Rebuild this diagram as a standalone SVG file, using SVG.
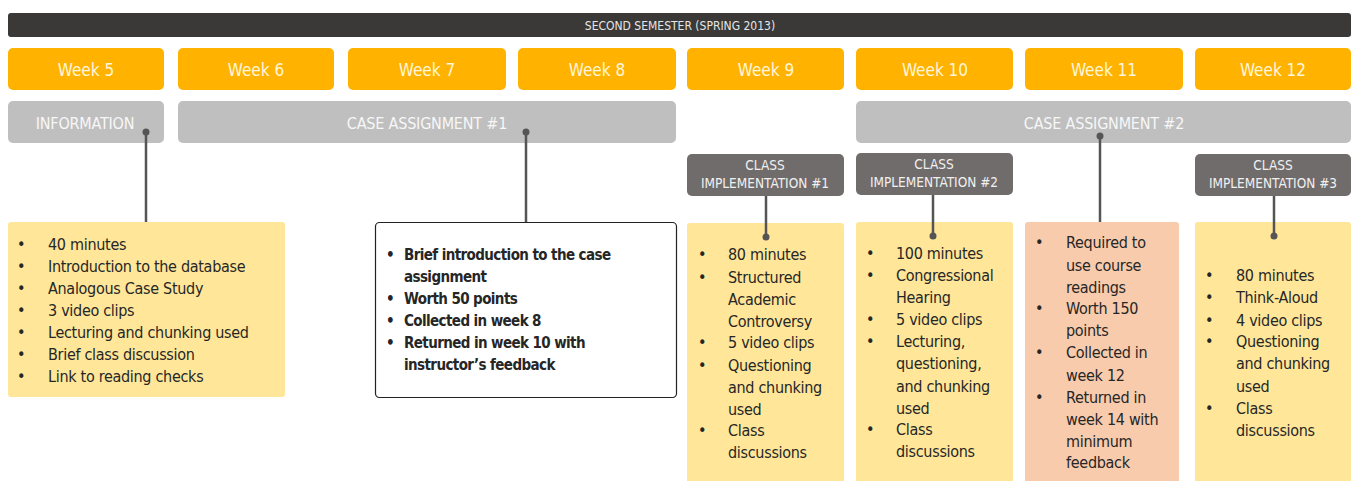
<svg xmlns="http://www.w3.org/2000/svg" width="1353" height="481" viewBox="0 0 1353 481">
<style>
text{font-family:"Liberation Sans Narrow","DejaVu Sans Condensed",sans-serif;}
.bar{fill:#3a3937;}
.bartxt{fill:#e6e6e6;font-size:12px;text-anchor:middle;}
.wk{fill:#ffb300;}
.wktxt{fill:#fff6dc;font-size:17px;text-anchor:middle;}
.gr{fill:#bfbfbf;}
.grtxt{fill:#f7f7f7;font-size:16px;text-anchor:middle;letter-spacing:-0.2px;}
.ci{fill:#706c6b;}
.citxt{fill:#f0f0f0;font-size:13.5px;text-anchor:middle;}
.yel{fill:#ffe699;}
.pink{fill:#f8cbad;}
.wht{fill:#fff;stroke:#222;stroke-width:1.2;}
.body{fill:#262626;font-size:16px;letter-spacing:-0.3px;}
.bold{font-weight:bold;font-size:15px;letter-spacing:-0.6px;}
.ln{stroke:#555;stroke-width:2.5;fill:none;}
.dot{fill:#555;}
</style>
<g id="header">
<rect class="bar" x="8" y="13" width="1343" height="24" rx="3"/>
<text class="bartxt" x="680" y="29.5">SECOND SEMESTER (SPRING 2013)</text>
</g>
<g id="weeks">
<rect class="wk" x="8" y="48" width="156" height="42" rx="5"/><text class="wktxt" x="86" y="76">Week 5</text>
<rect class="wk" x="178" y="48" width="156" height="42" rx="5"/><text class="wktxt" x="256" y="76">Week 6</text>
<rect class="wk" x="348" y="48" width="158" height="42" rx="5"/><text class="wktxt" x="427" y="76">Week 7</text>
<rect class="wk" x="518" y="48" width="158" height="42" rx="5"/><text class="wktxt" x="597" y="76">Week 8</text>
<rect class="wk" x="687" y="48" width="157" height="42" rx="5"/><text class="wktxt" x="766" y="76">Week 9</text>
<rect class="wk" x="856" y="48" width="157" height="42" rx="5"/><text class="wktxt" x="935" y="76">Week 10</text>
<rect class="wk" x="1025" y="48" width="158" height="42" rx="5"/><text class="wktxt" x="1104" y="76">Week 11</text>
<rect class="wk" x="1195" y="48" width="156" height="42" rx="5"/><text class="wktxt" x="1273" y="76">Week 12</text>
</g>
<g id="information">
<rect class="gr" x="8" y="101" width="156" height="42" rx="5"/>
<text class="grtxt" x="85" y="129">INFORMATION</text>
</g>
<g id="case1">
<rect class="gr" x="178" y="101" width="498" height="42" rx="5"/>
<text class="grtxt" x="427" y="129">CASE ASSIGNMENT #1</text>
</g>
<g id="case2">
<rect class="gr" x="856" y="101" width="495" height="42" rx="5"/>
<text class="grtxt" x="1104" y="129">CASE ASSIGNMENT #2</text>
</g>
<g id="ci1">
<rect class="ci" x="687" y="154" width="157" height="42" rx="5"/>
<text class="citxt" x="765" y="170">CLASS</text><text class="citxt" x="765" y="188">IMPLEMENTATION #1</text>
</g>
<g id="ci2">
<rect class="ci" x="856" y="153" width="157" height="42" rx="5"/>
<text class="citxt" x="934" y="169">CLASS</text><text class="citxt" x="934" y="187">IMPLEMENTATION #2</text>
</g>
<g id="ci3">
<rect class="ci" x="1195" y="154" width="156" height="42" rx="5"/>
<text class="citxt" x="1273" y="170">CLASS</text><text class="citxt" x="1273" y="188">IMPLEMENTATION #3</text>
</g>
<g id="week5-details">
<rect class="yel" x="8" y="222" width="277" height="175" rx="3"/>
<text class="body">
<tspan x="17" y="250">•</tspan><tspan x="48" y="250">40 minutes</tspan>
<tspan x="17" y="272">•</tspan><tspan x="48" y="272">Introduction to the database</tspan>
<tspan x="17" y="294">•</tspan><tspan x="48" y="294">Analogous  Case Study</tspan>
<tspan x="17" y="316">•</tspan><tspan x="48" y="316">3 video clips</tspan>
<tspan x="17" y="338">•</tspan><tspan x="48" y="338">Lecturing and chunking used</tspan>
<tspan x="17" y="360">•</tspan><tspan x="48" y="360">Brief class discussion</tspan>
<tspan x="17" y="382">•</tspan><tspan x="48" y="382">Link to reading checks</tspan>
</text>
</g>
<g id="case1-details">
<rect class="wht" x="375.5" y="222.5" width="301" height="175" rx="4"/>
<text class="body bold">
<tspan x="386" y="260">•</tspan><tspan x="404" y="260">Brief introduction to the case</tspan>
<tspan x="404" y="282">assignment</tspan>
<tspan x="386" y="304">•</tspan><tspan x="404" y="304">Worth 50 points</tspan>
<tspan x="386" y="326">•</tspan><tspan x="404" y="326">Collected in week 8</tspan>
<tspan x="386" y="348">•</tspan><tspan x="404" y="348">Returned in week 10 with</tspan>
<tspan x="404" y="370">instructor’s feedback</tspan>
</text>
</g>
<g id="ci1-details">
<rect class="yel" x="687" y="223" width="157" height="270" rx="3"/>
<text class="body">
<tspan x="698" y="260">•</tspan><tspan x="728" y="260">80 minutes</tspan>
<tspan x="698" y="283">•</tspan><tspan x="728" y="283">Structured</tspan>
<tspan x="728" y="305">Academic</tspan>
<tspan x="728" y="327">Controversy</tspan>
<tspan x="698" y="348">•</tspan><tspan x="728" y="348">5 video clips</tspan>
<tspan x="698" y="371">•</tspan><tspan x="728" y="371">Questioning</tspan>
<tspan x="728" y="393">and chunking</tspan>
<tspan x="728" y="415">used</tspan>
<tspan x="698" y="436">•</tspan><tspan x="728" y="436">Class</tspan>
<tspan x="728" y="458">discussions</tspan>
</text>
</g>
<g id="ci2-details">
<rect class="yel" x="856" y="222" width="157" height="270" rx="3"/>
<text class="body">
<tspan x="866" y="259">•</tspan><tspan x="896" y="259">100 minutes</tspan>
<tspan x="866" y="281">•</tspan><tspan x="896" y="281">Congressional</tspan>
<tspan x="896" y="303">Hearing</tspan>
<tspan x="866" y="325">•</tspan><tspan x="896" y="325">5 video clips</tspan>
<tspan x="866" y="347">•</tspan><tspan x="896" y="347">Lecturing,</tspan>
<tspan x="896" y="369">questioning,</tspan>
<tspan x="896" y="392">and chunking</tspan>
<tspan x="896" y="414">used</tspan>
<tspan x="866" y="435">•</tspan><tspan x="896" y="435">Class</tspan>
<tspan x="896" y="457">discussions</tspan>
</text>
</g>
<g id="case2-details">
<rect class="pink" x="1025" y="222" width="154" height="270" rx="3"/>
<text class="body">
<tspan x="1035" y="248">•</tspan><tspan x="1066" y="248">Required to</tspan>
<tspan x="1066" y="271">use course</tspan>
<tspan x="1066" y="293">readings</tspan>
<tspan x="1035" y="314">•</tspan><tspan x="1066" y="314">Worth 150</tspan>
<tspan x="1066" y="336">points</tspan>
<tspan x="1035" y="358">•</tspan><tspan x="1066" y="358">Collected in</tspan>
<tspan x="1066" y="381">week 12</tspan>
<tspan x="1035" y="403">•</tspan><tspan x="1066" y="403">Returned in</tspan>
<tspan x="1066" y="425">week 14 with</tspan>
<tspan x="1066" y="447">minimum</tspan>
<tspan x="1066" y="468">feedback</tspan>
</text>
</g>
<g id="ci3-details">
<rect class="yel" x="1195" y="222" width="156" height="270" rx="3"/>
<text class="body">
<tspan x="1205" y="281">•</tspan><tspan x="1236" y="281">80 minutes</tspan>
<tspan x="1205" y="303">•</tspan><tspan x="1236" y="303">Think-Aloud</tspan>
<tspan x="1205" y="326">•</tspan><tspan x="1236" y="326">4 video clips</tspan>
<tspan x="1205" y="347">•</tspan><tspan x="1236" y="347">Questioning</tspan>
<tspan x="1236" y="369">and chunking</tspan>
<tspan x="1236" y="392">used</tspan>
<tspan x="1205" y="414">•</tspan><tspan x="1236" y="414">Class</tspan>
<tspan x="1236" y="436">discussions</tspan>
</text>
</g>
<g id="connectors">
<line class="ln" x1="146" y1="132" x2="146" y2="222"/><circle class="dot" cx="146" cy="132" r="3.5"/>
<line class="ln" x1="526" y1="132" x2="526" y2="222"/><circle class="dot" cx="526" cy="132" r="3.5"/>
<line class="ln" x1="1100" y1="136" x2="1100" y2="222"/><circle class="dot" cx="1100" cy="136" r="3.5"/>
<line class="ln" x1="766" y1="196" x2="766" y2="237"/><circle class="dot" cx="766" cy="237" r="3.5"/>
<line class="ln" x1="933" y1="195" x2="933" y2="236"/><circle class="dot" cx="933" cy="236" r="3.5"/>
<line class="ln" x1="1274" y1="196" x2="1274" y2="236"/><circle class="dot" cx="1274" cy="236" r="3.5"/>
</g>
</svg>
